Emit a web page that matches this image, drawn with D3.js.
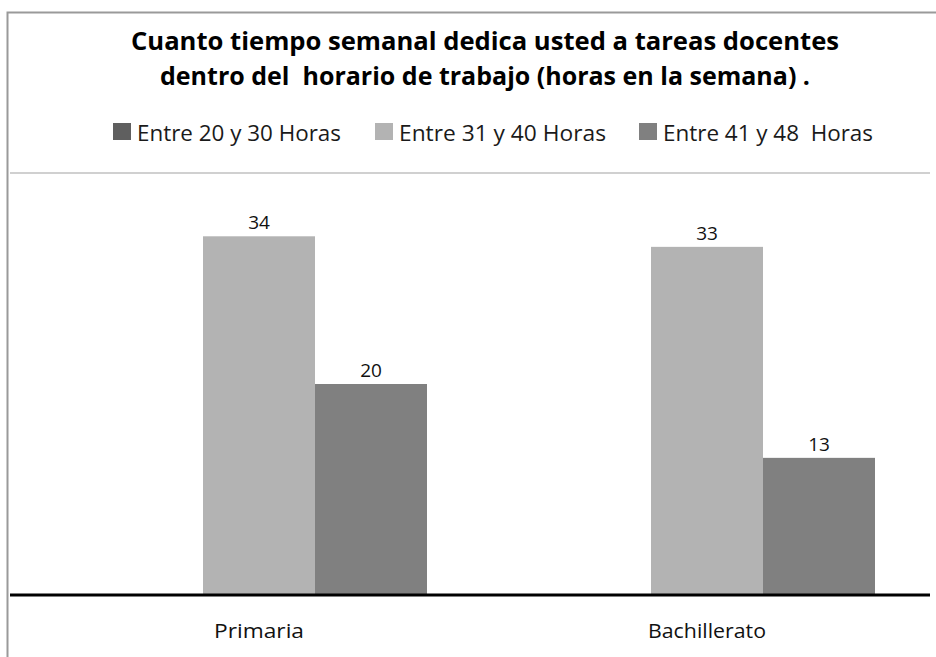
<!DOCTYPE html>
<html>
<head>
<meta charset="utf-8">
<script src="https://cdn.jsdelivr.net/npm/d3@7"></script>
<style>
  body { margin: 0; background: #fff; }
  text { font-family: "Open Sans", "Noto Sans", sans-serif; }
</style>
</head>
<body>
<div id="chart"></div>
<script>
// data
const categories = ["Primaria", "Bachillerato"];
const seriesNames = ["Entre 20 y 30 Horas", "Entre 31 y 40 Horas", "Entre 41 y 48  Horas"];
const seriesColors = ["#5f5f5f", "#b3b3b3", "#808080"];
const values = [
  [0, 0],    // Entre 20 y 30
  [34, 33],  // Entre 31 y 40
  [20, 13]   // Entre 41 y 48
];
const titleLines = ["Cuanto tiempo semanal dedica usted a tareas docentes",
                    "dentro del  horario de trabajo (horas en la semana) ."];

const width = 936, height = 657;
const plot = {left: 35, right: 931, top: 173, bottom: 595};

const svg = d3.select("#chart").append("svg")
  .attr("width", width)
  .attr("height", height);

// frame
svg.append("path")
  .attr("d", "M7.5,657 V12.5 H936")
  .attr("fill", "none")
  .attr("stroke", "#9a9a9a")
  .attr("stroke-width", 2);

// title
svg.append("g").selectAll("text")
  .data(titleLines)
  .enter().append("text")
  .attr("x", 485)
  .attr("y", (d, i) => 50 + i * 35)
  .attr("text-anchor", "middle")
  .attr("textLength", (d, i) => i == 0 ? 708 : 650)
  .attr("lengthAdjust", "spacingAndGlyphs")
  .style("font-size", "25px")
  .style("font-weight", "bold")
  .style("white-space", "pre")
  .attr("fill", "#000")
  .text(d => d);

// legend
const legendX = [113, 375, 639];
const legendW = [204, 207, 210];
const legend = svg.append("g");
seriesNames.forEach((name, i) => {
  legend.append("rect")
    .attr("x", legendX[i]).attr("y", 123)
    .attr("width", 18).attr("height", 17)
    .attr("fill", seriesColors[i]);
  legend.append("text")
    .attr("x", legendX[i] + 24).attr("y", 141)
    .attr("textLength", legendW[i])
    .attr("lengthAdjust", "spacingAndGlyphs")
    .style("font-size", "21px")
    .style("white-space", "pre")
    .attr("fill", "#1a1a1a")
    .text(name);
});

// scales
const x0 = d3.scaleBand().domain(categories).range([plot.left, plot.right]).paddingInner(0.25).paddingOuter(0.125);
const x1 = d3.scaleBand().domain(d3.range(seriesNames.length)).range([0, x0.bandwidth()]);
const y = d3.scaleLinear().domain([0, 40]).range([plot.bottom, plot.top]);

// top gridline
svg.append("line")
  .attr("x1", 10).attr("x2", 930)
  .attr("y1", y(40)).attr("y2", y(40))
  .attr("stroke", "#d0d0d0").attr("stroke-width", 2);

// bars
const groups = svg.append("g").selectAll("g")
  .data(categories)
  .enter().append("g")
  .attr("transform", d => "translate(" + x0(d) + ",0)");

groups.selectAll("rect")
  .data((c, ci) => values.map((s, si) => ({si: si, v: s[ci]})))
  .enter().append("rect")
  .attr("x", d => x1(d.si))
  .attr("width", x1.bandwidth())
  .attr("y", d => y(d.v))
  .attr("height", d => y(0) - y(d.v))
  .attr("fill", d => seriesColors[d.si]);

groups.selectAll("text")
  .data((c, ci) => values.map((s, si) => ({si: si, v: s[ci]})).filter(d => d.v > 0))
  .enter().append("text")
  .attr("x", d => x1(d.si) + x1.bandwidth() / 2)
  .attr("y", d => y(d.v) - 7)
  .attr("text-anchor", "middle")
  .style("font-size", "19px")
  .attr("fill", "#111")
  .text(d => d.v);

// baseline
svg.append("line")
  .attr("x1", 10).attr("x2", 930)
  .attr("y1", y(0)).attr("y2", y(0))
  .attr("stroke", "#000").attr("stroke-width", 3);

// category labels
const catW = {"Primaria": 90, "Bachillerato": 118};
const xAxis = svg.append("g")
  .attr("transform", "translate(0," + y(0) + ")")
  .call(d3.axisBottom(x0).tickSize(0).tickPadding(29));
xAxis.select(".domain").remove();
xAxis.selectAll("text")
  .attr("textLength", d => catW[d])
  .attr("lengthAdjust", "spacingAndGlyphs")
  .style("font-size", "20px")
  .style("font-family", "'Open Sans', sans-serif")
  .attr("fill", "#111");
</script>
</body>
</html>
